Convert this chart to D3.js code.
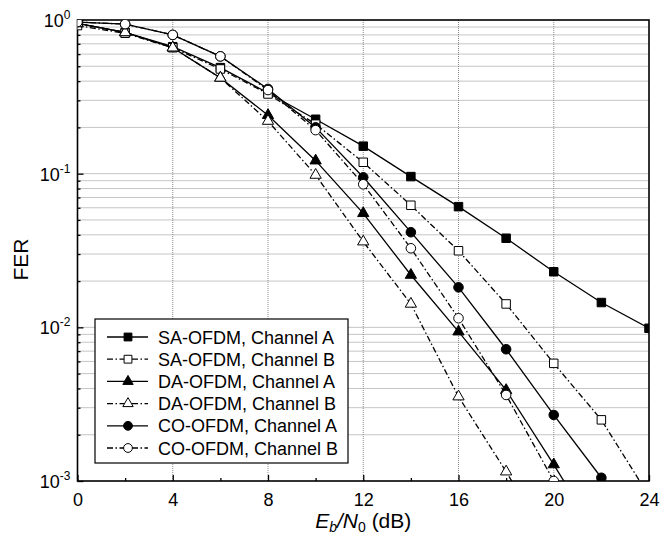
<!DOCTYPE html>
<html>
<head>
<meta charset="utf-8">
<script src="https://cdn.jsdelivr.net/npm/d3@7"></script>
<style>
  body { margin: 0; background: #fff; }
  text { font-family: "Liberation Sans", Arial, sans-serif; fill: #000; }
</style>
</head>
<body>
<div id="chart"></div>
<script>
// Eb/N0 values (dB)
const ebno = [0, 2, 4, 6, 8, 10, 12, 14, 16, 18, 20, 22, 24];

// FER
const saA = [0.95, 0.83, 0.67, 0.49, 0.335, 0.226, 0.151, 0.0957, 0.061, 0.038, 0.023, 0.0145, 0.00986];
const saB = [0.92, 0.82, 0.66, 0.48, 0.33, 0.21, 0.1186, 0.0623, 0.0315, 0.0142, 0.00583, 0.0025, 0.0008];
const daA = [0.95, 0.83, 0.66, 0.42, 0.24, 0.1215, 0.0552, 0.0219, 0.00937, 0.0039, 0.00128, 0.0004];
const daB = [0.95, 0.83, 0.66, 0.42, 0.22, 0.098, 0.0361, 0.0142, 0.00354, 0.00115, 0.00035];
const coA = [0.97, 0.94, 0.80, 0.58, 0.356, 0.2, 0.0947, 0.0416, 0.0182, 0.0072, 0.00269, 0.00105];
const coB = [0.97, 0.94, 0.80, 0.58, 0.35, 0.192, 0.0853, 0.0327, 0.01146, 0.00363, 0.001];

const seriesNames = ["SA-OFDM, Channel A", "SA-OFDM, Channel B", "DA-OFDM, Channel A",
                     "DA-OFDM, Channel B", "CO-OFDM, Channel A", "CO-OFDM, Channel B"];
const xTicks = [0, 4, 8, 12, 16, 20, 24];
const yTicks = [1, 0.1, 0.01, 0.001];
const yExp = ["0", "-1", "-2", "-3"];

const series = [
  {name: seriesNames[0], values: saA, shape: d3.symbolSquare, size: 72, filled: true, dashed: false},
  {name: seriesNames[1], values: saB, shape: d3.symbolSquare, size: 72, filled: false, dashed: true},
  {name: seriesNames[2], values: daA, shape: d3.symbolTriangle, size: 55, filled: true, dashed: false},
  {name: seriesNames[3], values: daB, shape: d3.symbolTriangle, size: 55, filled: false, dashed: true},
  {name: seriesNames[4], values: coA, shape: d3.symbolCircle, size: 72, filled: true, dashed: false},
  {name: seriesNames[5], values: coB, shape: d3.symbolCircle, size: 72, filled: false, dashed: true}
];

const margin = {top: 20, right: 11, bottom: 57, left: 77.5};
const width = 660 - margin.left - margin.right;
const height = 538 - margin.top - margin.bottom;
const dashPattern = "6,2.5,1.5,2.5";

const svg = d3.select("#chart")
  .append("svg")
    .attr("width", 660)
    .attr("height", 538)
  .append("g")
    .attr("transform", "translate(" + margin.left + "," + margin.top + ")");

const x = d3.scaleLinear().domain([0, 24]).range([0, width]);
const y = d3.scaleLog().domain([0.001, 1]).range([height, 0]);

svg.append("clipPath").attr("id", "clip")
  .append("rect").attr("width", width).attr("height", height);

// grid
const minorY = [];
[0.001, 0.01, 0.1].forEach(d => { for (let k = 1; k <= 9; k++) minorY.push(d * k); });
svg.append("g").selectAll("line")
  .data(minorY.filter(v => v > 0.001))
  .join("line")
    .attr("x1", 0).attr("x2", width)
    .attr("y1", d => y(d)).attr("y2", d => y(d))
    .attr("stroke", "#8a8a8a").attr("stroke-width", 1)
    .attr("stroke-dasharray", "1,1");
svg.append("g").selectAll("line")
  .data(xTicks.slice(1, -1))
  .join("line")
    .attr("x1", d => x(d)).attr("x2", d => x(d))
    .attr("y1", 0).attr("y2", height)
    .attr("stroke", "#8a8a8a").attr("stroke-width", 1)
    .attr("stroke-dasharray", "1,1");

// axes (ticks inside)
const xAxis = d3.axisBottom(x).tickValues(xTicks).tickSizeInner(-6).tickSizeOuter(0).tickPadding(12);
const xMinor = d3.axisBottom(x).tickValues([2, 6, 10, 14, 18, 22]).tickSizeInner(-3).tickSizeOuter(0).tickFormat("");
const yAxis = d3.axisLeft(y).tickValues(yTicks).tickSizeInner(-6).tickSizeOuter(0).tickFormat("");
const yMinor = d3.axisLeft(y).tickValues(minorY.filter(v => yTicks.indexOf(v) < 0 && v > 0.001)).tickSizeInner(-3).tickSizeOuter(0).tickFormat("");

const xg = svg.append("g").attr("transform", `translate(0,${height})`).call(xAxis);
xg.selectAll("text").style("font-size", "18px").attr("fill", "#000");
svg.append("g").attr("transform", `translate(0,${height})`).call(xMinor);
svg.append("g").call(yAxis);
svg.append("g").call(yMinor);
svg.selectAll(".domain").remove();
svg.selectAll(".tick line").attr("stroke", "#000").attr("stroke-width", 1.3);

// y tick labels 10^n
const yLab = svg.append("g").selectAll("text")
  .data(yTicks)
  .join("text")
    .attr("x", -7)
    .attr("y", d => y(d) + 7)
    .attr("text-anchor", "end")
    .style("font-size", "18px");
yLab.append("tspan").text("10");
yLab.append("tspan").attr("dy", -8).style("font-size", "12px").text((d, i) => yExp[i]);

// frame
svg.append("rect")
  .attr("width", width).attr("height", height)
  .attr("fill", "none").attr("stroke", "#000").attr("stroke-width", 1.6);

// lines and markers
const line = d3.line().x((d, i) => x(ebno[i])).y(d => y(d));
const plot = svg.append("g").attr("clip-path", "url(#clip)");

series.forEach(s => {
  plot.append("path")
    .datum(s.values)
    .attr("fill", "none")
    .attr("stroke", "#000")
    .attr("stroke-width", 1.3)
    .attr("stroke-dasharray", s.dashed ? dashPattern : null)
    .attr("d", line);
});
series.forEach(s => {
  plot.append("g").selectAll("path")
    .data(s.values)
    .join("path")
      .attr("transform", (d, i) => `translate(${x(ebno[i])},${y(d)})`)
      .attr("d", d3.symbol().type(s.shape).size(s.size))
      .attr("fill", s.filled ? "#000" : "#fff")
      .attr("stroke", "#000")
      .attr("stroke-width", 1);
});

// legend
const legend = svg.append("g").attr("transform", "translate(17.5,299)");
legend.append("rect")
  .attr("width", 253).attr("height", 144)
  .attr("fill", "#fff").attr("stroke", "#000").attr("stroke-width", 1.2);
series.forEach((s, i) => {
  const row = legend.append("g").attr("transform", `translate(0,${18 + i * 22.2})`);
  row.append("line")
    .attr("x1", 12).attr("x2", 53).attr("y1", 0).attr("y2", 0)
    .attr("stroke", "#000").attr("stroke-width", 1.3)
    .attr("stroke-dasharray", s.dashed ? dashPattern : null);
  row.append("path")
    .attr("transform", "translate(33,0)")
    .attr("d", d3.symbol().type(s.shape).size(s.size * 0.85))
    .attr("fill", s.filled ? "#000" : "#fff")
    .attr("stroke", "#000").attr("stroke-width", 1);
  row.append("text")
    .attr("x", 63).attr("y", 6.5)
    .style("font-size", "18px")
    .text(s.name);
});

// axis titles
const xt = svg.append("text")
  .attr("x", width / 2).attr("y", height + 47)
  .attr("text-anchor", "middle")
  .style("font-size", "21px");
xt.append("tspan").style("font-style", "italic").text("E");
xt.append("tspan").attr("dy", 4).style("font-size", "14px").style("font-style", "italic").text("b");
xt.append("tspan").attr("dy", -4).style("font-style", "italic").text("/N");
xt.append("tspan").attr("dy", 4).style("font-size", "14px").text("0");
xt.append("tspan").attr("dy", -4).text(" (dB)");

svg.append("text")
  .attr("transform", `translate(-50,${height / 2 + 9}) rotate(-90)`)
  .attr("text-anchor", "middle")
  .style("font-size", "21px")
  .text("FER");
</script>
</body>
</html>
